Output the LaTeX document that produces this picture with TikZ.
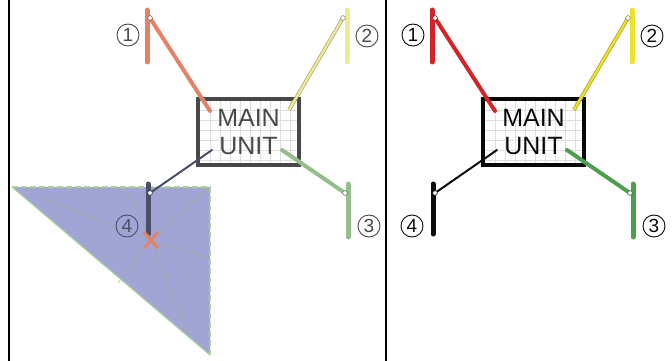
\documentclass[tikz,border=0pt]{standalone}
\usepackage{fontspec}
\setmainfont{Liberation Sans}
\usetikzlibrary{positioning, calc}

% faded colours (left) and full colours (right)
\definecolor{redL}{RGB}{228,130,104}
\definecolor{redR}{RGB}{212,36,40}
\definecolor{yelL}{RGB}{240,234,150}
\definecolor{yelR}{RGB}{238,226,40}
\definecolor{grnL}{RGB}{150,190,140}
\definecolor{grnR}{RGB}{78,158,78}
\definecolor{blkL}{RGB}{74,78,104}
\definecolor{blkR}{RGB}{12,12,12}
\definecolor{boxL}{RGB}{72,72,72}
\definecolor{boxR}{RGB}{8,8,8}
\definecolor{zonefill}{RGB}{162,164,214}
\definecolor{rim}{RGB}{170,210,150}

\tikzset{
  post/.style={line width=5pt, line cap=round},
  lead/.style={line width=4pt, line cap=round},
  tip/.style={draw=#1, fill=white, line width=0.6pt},
  tag/.style={circle, draw, line width=0.9pt, minimum size=22pt, inner sep=0pt,
    font=\fontsize{19}{19}\selectfont},
  unitbox/.style={draw, line width=4.5pt, minimum width=101pt, minimum height=66pt,
    inner sep=0pt, align=center, font=\fontsize{25}{28}\selectfont},
  mesh/.style={draw=rim!60!gray, line width=0.5pt},
}

\begin{document}
\begin{tikzpicture}[x=1pt,y=-1pt]
\useasboundingbox (0,0) rectangle (672,361);

% frame lines
\draw[line width=1.5pt] (9,0) -- (9,361);
\draw[line width=1.5pt] (386,0) -- (386,361);

% shaded zone (left only)
\coordinate (hit) at (151,240);
\coordinate (za) at (12,187);
\coordinate (zb) at (210,187);
\coordinate (zc) at (210,355);
\fill[zonefill] (za) -- (zb) -- (zc) -- cycle;
\foreach \q in {(40,197),(125,187),(zb),(210,258),(190,338),(118,283)}
  \draw[mesh] (hit) -- \q;
\draw[rim, line width=2.5pt, dash pattern=on 6pt off 3pt] (za) -- (zb) -- (zc);
\draw[rim, line width=1.2pt] (zc) -- (za);

\foreach \p/\dx in {L/0, R/285} {
\begin{scope}[xshift=\dx pt]
  % grid of the unit
  \foreach \gx in {210,220,...,290} \draw[gray!25, line width=0.5pt] (\gx,101) -- (\gx,163);
  \foreach \gy in {110,120,...,160} \draw[gray!25, line width=0.5pt] (200,\gy) -- (297,\gy);
  \node[unitbox, draw=box\p, text=box\p] (unit\p) at (248.5,132) {MAIN\\UNIT};

  % posts
  \coordinate (p1\p) at (147,10);
  \coordinate (p2\p) at (347,10);
  \coordinate (p3\p) at (348,184);
  \coordinate (p4\p) at (148,184);
  \draw[post, red\p] (p1\p) -- ++(0,52);
  \draw[post, yel\p] (p2\p) -- ++(0,52);
  \draw[post, grn\p] (p3\p) -- ++(0,53);
  \draw[post, blk\p] (p4\p) -- ++(0,50);

  % leads from the unit
  \coordinate (a1\p) at (210,111);
  \coordinate (a2\p) at (289,110);
  \coordinate (a3\p) at (282,150);
  \coordinate (a4\p) at (212,150);
  \coordinate (e1\p) at (150,18);
  \coordinate (e2\p) at (343,18);
  \coordinate (e3\p) at (345,193);
  \coordinate (e4\p) at (150,193);
  \draw[lead, red\p] (a1\p) -- (e1\p);
  \draw[line width=0.7pt, draw=yel\p!70!black, double=yel\p, double distance=2.2pt] (a2\p) -- (e2\p);
  \draw[lead, grn\p] (a3\p) -- (e3\p);
  \draw[lead, line width=2pt, blk\p] (a4\p) -- (e4\p);
  \foreach \k/\c in {1/red,2/yel,3/grn,4/blk}
    \path[tip=\c\p!60!black] (e\k\p) circle (2.4);

  % labels
  \node[tag, draw=box\p, text=box\p] (n1\p) at (128,35) {1};
  \node[tag, draw=box\p, text=box\p] (n2\p) at (367,36) {2};
  \node[tag, draw=box\p, text=box\p] (n3\p) at (369,226) {3};
  \node[tag, draw=blk\p, text=blk\p] (n4\p) at (127,226) {4};
\end{scope}
}

% fault mark
\draw[redL, line width=3pt] ($(hit)+(-7,-8)$) -- ($(hit)+(7,8)$);
\draw[redL, line width=3pt] ($(hit)+(7,-8)$) -- ($(hit)+(-7,8)$);
\end{tikzpicture}
\end{document}
